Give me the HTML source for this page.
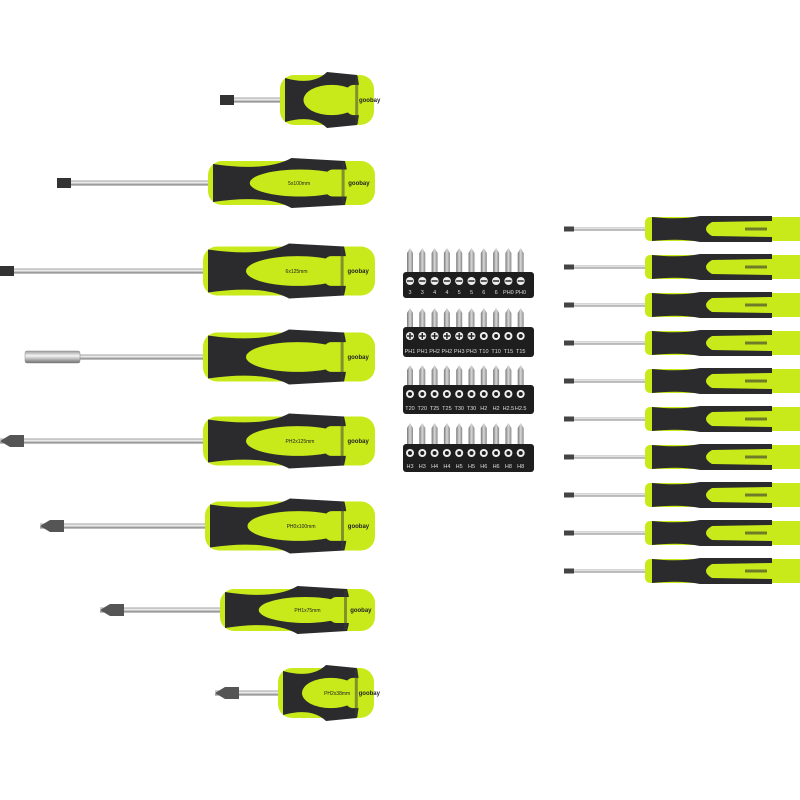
<!DOCTYPE html>
<html><head><meta charset="utf-8"><style>
html,body{margin:0;padding:0;background:#fff;width:800px;height:800px;overflow:hidden}
svg{display:block}
</style></head><body>
<svg id="s" width="800" height="800" viewBox="0 0 800 800" xmlns="http://www.w3.org/2000/svg">
<defs>
<linearGradient id="sh" x1="0" y1="0" x2="0" y2="1">
<stop offset="0" stop-color="#9a9a9a"/><stop offset="0.4" stop-color="#f4f4f4"/><stop offset="1" stop-color="#6f6f6f"/></linearGradient>
<linearGradient id="bit" x1="0" y1="0" x2="1" y2="0">
<stop offset="0" stop-color="#777"/><stop offset="0.5" stop-color="#d8d8d8"/><stop offset="1" stop-color="#888"/></linearGradient>
</defs>
</svg>
<script>
var s=document.getElementById('s'),out='';
function big(x0,x1,cy,h,sx,tip,lab){
 var L=x1-x0;
 out+='<rect x="'+sx+'" y="'+(cy-2.5)+'" width="'+(x0-sx+4)+'" height="5" fill="url(#sh)"/>';
 if(tip=='slot') out+='<rect x="'+sx+'" y="'+(cy-5)+'" width="14" height="10" fill="#333"/>';
 if(tip=='ph') out+='<path d="M'+sx+','+cy+' l10,-6 l14,0 l0,12 l-14,0z" fill="#555"/>';
 if(tip=='hold') out+='<rect x="'+sx+'" y="'+(cy-6)+'" width="55" height="12" rx="2" fill="url(#sh)" stroke="#888" stroke-width=".5"/>';
 var t=cy-h/2,b=cy+h/2;
 out+='<rect x="'+x0+'" y="'+(t+3)+'" width="'+L+'" height="'+(h-6)+'" rx="14" fill="#c8ea1a"/>';
 var m=x0+L*0.35, e=x0+L*0.82;
 out+='<path d="M'+(x0+5)+','+(t+6)+' Q'+m+','+(t+14)+' '+(x0+L*0.5)+','+t+' L'+e+','+(t+3)+' Q'+(e+6)+','+cy+' '+e+','+(b-3)+' L'+(x0+L*0.5)+','+b+' Q'+m+','+(b-14)+' '+(x0+5)+','+(b-6)+' Z" fill="#2b2b2d"/>';
 out+='<ellipse cx="'+(x0+L*0.55)+'" cy="'+cy+'" rx="'+(L*0.3)+'" ry="'+(h*0.27)+'" fill="#c8ea1a"/>';
 out+='<rect x="'+(x0+L*0.7)+'" y="'+(cy-h*0.27)+'" width="'+(L*0.3-2)+'" height="'+(h*0.54)+'" rx="8" fill="#c8ea1a"/>';
 out+='<rect x="'+(x0+L*0.8)+'" y="'+(t+4)+'" width="3" height="'+(h-8)+'" fill="#3a3a3a" opacity=".5"/>';
 if(lab) out+='<text x="'+(x0+L*0.48)+'" y="'+(cy+2)+'" font-family="Liberation Sans,sans-serif" font-size="5" fill="#222">'+lab+'</text>';
 out+='<text x="'+(x0+L*0.84)+'" y="'+(cy+2)+'" font-family="Liberation Sans,sans-serif" font-size="6" font-weight="bold" fill="#222">goobay</text>';
}
big(280,374,100,56,220,'slot','');
big(208,375,183,50,57,'slot','5x100mm');
big(203,375,271,55,0,'slot','6x125mm');
big(203,375,357,55,25,'hold','');
big(203,375,441,55,0,'ph','PH2x125mm');
big(205,375,526,55,40,'ph','PH0x100mm');
big(220,375,610,48,100,'ph','PH1x75mm');
big(278,374,693,56,215,'ph','PH2x38mm');
for(var i=0;i<10;i++){
 var cy=229+i*38;
 out+='<rect x="566" y="'+(cy-1.5)+'" width="84" height="3" fill="url(#sh)"/>';
 out+='<rect x="564" y="'+(cy-2.5)+'" width="10" height="5" fill="#444"/>';
 out+='<rect x="645" y="'+(cy-12)+'" width="160" height="24" rx="5" fill="#c8ea1a"/>';
 out+='<path d="M652,'+(cy-12)+' Q680,'+(cy-9)+' 700,'+(cy-13)+' L772,'+(cy-13)+' L772,'+(cy-8)+' L712,'+(cy-7)+' Q700,'+cy+' 712,'+(cy+7)+' L772,'+(cy+8)+' L772,'+(cy+13)+' L700,'+(cy+13)+' Q680,'+(cy+9)+' 652,'+(cy+12)+' Z" fill="#2b2b2d"/>';
 out+='<rect x="745" y="'+(cy-1.5)+'" width="22" height="3" fill="#333" opacity=".6"/>';
}
var blocks=[[248,272,298,['3','3','4','4','5','5','6','6','PH0','PH0'],'s'],[308,327,357,['PH1','PH1','PH2','PH2','PH3','PH3','T10','T10','T15','T15'],'p'],[365,385,414,['T20','T20','T25','T25','T30','T30','H2','H2','H2.5','H2.5'],'o'],[423,444,472,['H3','H3','H4','H4','H5','H5','H6','H6','H8','H8'],'o']];
blocks.forEach(function(bk){
 for(var j=0;j<10;j++){
  var x=410+j*12.3;
  out+='<path d="M'+(x-3)+','+(bk[1]+1)+' L'+(x-3)+','+(bk[0]+5)+' L'+x+','+bk[0]+' L'+(x+3)+','+(bk[0]+5)+' L'+(x+3)+','+(bk[1]+1)+' Z" fill="url(#bit)"/>';
 }
 out+='<rect x="403" y="'+bk[1]+'" width="131" height="'+(bk[2]-bk[1])+'" rx="3" fill="#1e1e1e"/>';
 for(var j=0;j<10;j++){
  var x=410+j*12.3, cy=bk[1]+9;
  out+='<circle cx="'+x+'" cy="'+cy+'" r="4" fill="#eee"/>';
  if(bk[4]=='s'||(bk[4]=='p'&&j<6)) out+='<rect x="'+(x-3)+'" y="'+(cy-0.7)+'" width="6" height="1.4" fill="#1e1e1e"/>';
  if(bk[4]=='p'&&j<6) out+='<rect x="'+(x-0.7)+'" y="'+(cy-3)+'" width="1.4" height="6" fill="#1e1e1e"/>';
  if(bk[4]=='o'||(bk[4]=='p'&&j>=6)) out+='<circle cx="'+x+'" cy="'+cy+'" r="2" fill="#1e1e1e"/>';
  out+='<text x="'+x+'" y="'+(bk[2]-4)+'" text-anchor="middle" font-family="Liberation Sans,sans-serif" font-size="5.5" fill="#ddd">'+bk[3][j]+'</text>';
 }
});
s.insertAdjacentHTML('beforeend',out);
</script>
</body></html>
